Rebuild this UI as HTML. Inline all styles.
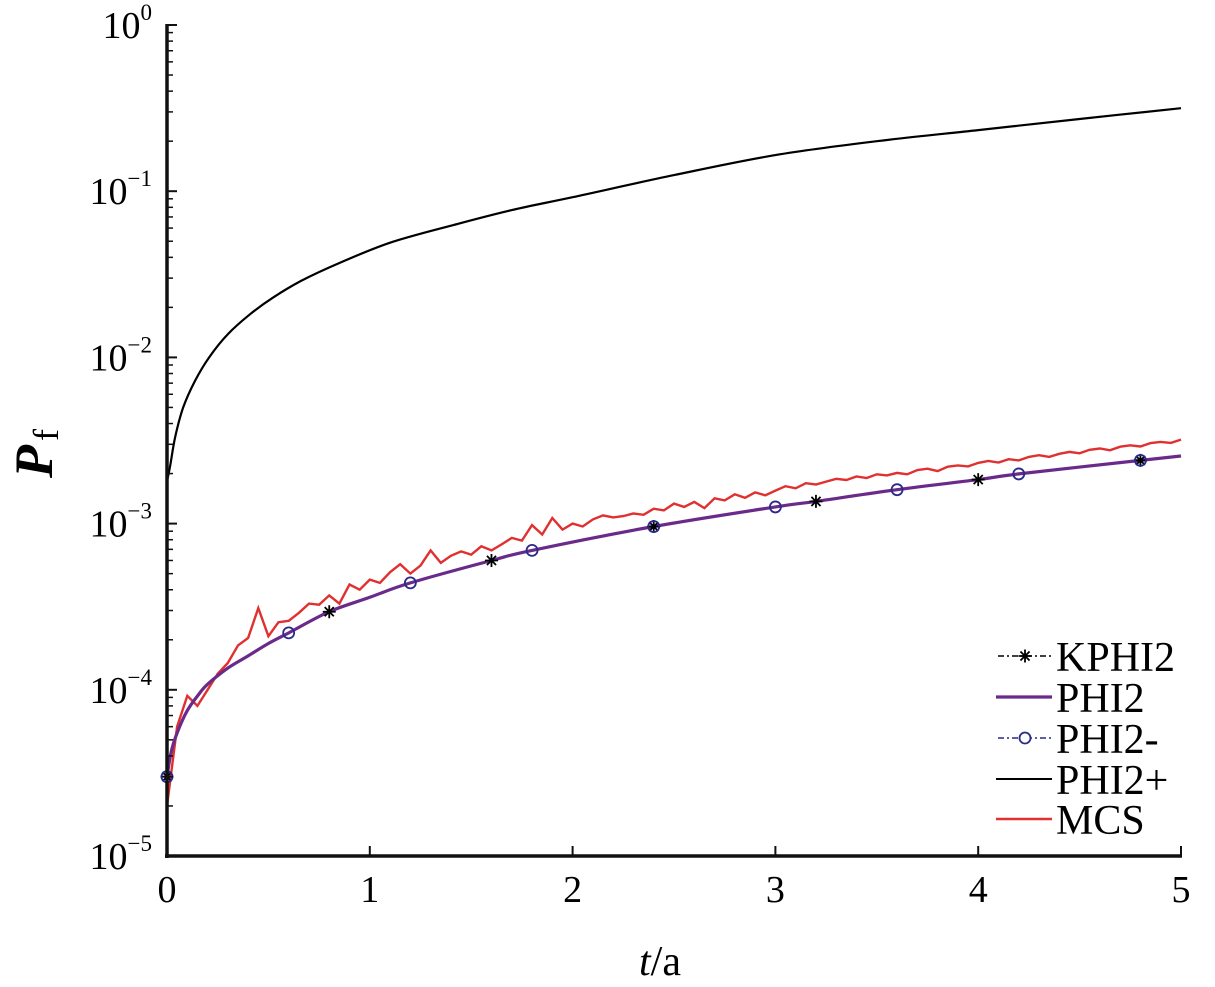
<!DOCTYPE html>
<html><head><meta charset="utf-8"><style>
html,body{margin:0;padding:0;background:#fff;}
svg{display:block;font-family:"Liberation Serif",serif;}
</style></head><body>
<svg id="chart" width="1215" height="987" viewBox="0 0 1215 987" xmlns="http://www.w3.org/2000/svg">
<g id="series"></g>
<g id="axes"></g>
<g id="legend"></g>
<text transform="translate(52,478) rotate(-90)" font-size="54" font-style="italic" font-weight="bold">P<tspan font-size="36" font-style="normal" font-weight="normal" dx="4" dy="6">f</tspan></text>
<text x="660" y="975" font-size="42" text-anchor="middle"><tspan font-style="italic">t</tspan>/a</text>
</svg>
<script>
const xTicks=[0,1,2,3,4,5];
const yDecades=[-5,-4,-3,-2,-1,0];
const plusT=[0,0.015,0.04,0.08,0.14,0.21,0.3,0.41,0.52,0.66,0.85,1.1,1.4,1.7,2,2.5,3,3.5,4,4.5,5];
const plusV=[0.0018,0.0022,0.0033,0.005,0.0073,0.0101,0.0138,0.0182,0.0228,0.0288,0.037,0.049,0.062,0.077,0.092,0.125,0.165,0.2,0.233,0.272,0.316];
const phiT=[0,0.02,0.05,0.1,0.16,0.2,0.3,0.4,0.5,0.6,0.8,1.0,1.2,1.6,1.8,2.4,3.0,3.2,3.6,4.0,4.2,4.8,5.0];
const phiV=[3e-5,4.2e-5,5.5e-5,7.5e-5,9.5e-5,1.08e-4,1.35e-4,1.6e-4,1.9e-4,2.2e-4,2.95e-4,3.6e-4,4.4e-4,6e-4,6.9e-4,9.6e-4,1.26e-3,1.36e-3,1.6e-3,1.84e-3,1.99e-3,2.4e-3,2.55e-3];
const kphiMarkT=[0,0.8,1.6,2.4,3.2,4.0,4.8];
const kphiMarkV=[3e-5,2.95e-4,6e-4,9.6e-4,1.36e-3,1.84e-3,2.4e-3];
const minusMarkT=[0,0.6,1.2,1.8,2.4,3.0,3.6,4.2,4.8];
const minusMarkV=[3e-5,2.2e-4,4.4e-4,6.9e-4,9.6e-4,1.26e-3,1.6e-3,1.99e-3,2.4e-3];
const mcsT=[0,0.05,0.1,0.15,0.2,0.25,0.3,0.35,0.4,0.45,0.5,0.55,0.6,0.65,0.7,0.75,0.8,0.85,0.9,0.95,1.0,1.05,1.1,1.15,1.2,1.25,1.3,1.35,1.4,1.45,1.5,1.55,1.6,1.65,1.7,1.75,1.8,1.85,1.9,1.95,2.0,2.05,2.1,2.15,2.2,2.25,2.3,2.35,2.4,2.45,2.5,2.55,2.6,2.65,2.7,2.75,2.8,2.85,2.9,2.95,3.0,3.05,3.1,3.15,3.2,3.25,3.3,3.35,3.4,3.45,3.5,3.55,3.6,3.65,3.7,3.75,3.8,3.85,3.9,3.95,4.0,4.05,4.1,4.15,4.2,4.25,4.3,4.35,4.4,4.45,4.5,4.55,4.6,4.65,4.7,4.75,4.8,4.85,4.9,4.95,5.0];
const mcsV=[0.2,0.6,0.92,0.8,1.0,1.25,1.45,1.85,2.05,3.1,2.1,2.55,2.6,2.9,3.3,3.25,3.7,3.3,4.3,4.0,4.6,4.4,5.1,5.7,5.0,5.6,6.9,5.8,6.4,6.8,6.5,7.3,6.9,7.5,8.2,7.9,9.8,8.6,10.8,9.2,10.0,9.6,10.6,11.2,10.9,11.1,11.5,11.3,12.3,12.0,13.2,12.6,13.5,12.4,14.2,13.8,15.0,14.3,15.4,14.8,15.8,16.8,16.3,17.5,17.2,17.9,18.6,18.3,19.2,18.8,19.8,19.5,20.2,19.8,21.0,21.4,20.7,22.0,22.4,22.1,23.2,23.8,23.3,24.4,24.0,25.2,25.8,25.2,26.3,27.0,26.5,27.8,28.3,27.6,29.0,29.6,29.1,30.5,31.0,30.6,32.0];
const MCS_SCALE=1e-4;

const X0=167,X1=1181,YT=25,YB=856;
const xs=t=>X0+(t-0)/(5-0)*(X1-X0);
const ys=v=>YB-(Math.log10(v)+5)/5*(YB-YT);
const NS='http://www.w3.org/2000/svg';
function mk(tag,attrs,parent){const e=document.createElementNS(NS,tag);for(const k in attrs)e.setAttribute(k,attrs[k]);parent.appendChild(e);return e;}
const S=document.getElementById('series'),A=document.getElementById('axes'),L=document.getElementById('legend');
const pts=(T,V,sc)=>T.map((t,i)=>xs(t).toFixed(1)+','+ys(V[i]*(sc||1)).toFixed(1)).join(' ');
function smoothPath(T,V){
  const P=T.map((t,i)=>[xs(t),ys(V[i])]);
  let d='M'+P[0][0].toFixed(1)+','+P[0][1].toFixed(1);
  for(let i=0;i<P.length-1;i++){
    const p0=P[Math.max(0,i-1)],p1=P[i],p2=P[i+1],p3=P[Math.min(P.length-1,i+2)];
    const c1=[p1[0]+(p2[0]-p0[0])/6,p1[1]+(p2[1]-p0[1])/6];
    const c2=[p2[0]-(p3[0]-p1[0])/6,p2[1]-(p3[1]-p1[1])/6];
    d+=` C${c1[0].toFixed(1)},${c1[1].toFixed(1)} ${c2[0].toFixed(1)},${c2[1].toFixed(1)} ${p2[0].toFixed(1)},${p2[1].toFixed(1)}`;
  }
  return d;
}

let e;
e=mk('path',{d:smoothPath(plusT,plusV),fill:'none',stroke:'#000','stroke-width':2.2},S);


e=mk('polyline',{points:pts(mcsT,mcsV,MCS_SCALE),fill:'none',stroke:'#e03030','stroke-width':2.4},S);


e=mk('path',{d:smoothPath(phiT,phiV),fill:'none',stroke:'#6a2a8a','stroke-width':3.2},S);


function star(cx,cy,r,g){mk('path',{d:`M${cx-r},${cy}H${cx+r}M${cx},${cy-r}V${cy+r}M${cx-r*.7},${cy-r*.7}L${cx+r*.7},${cy+r*.7}M${cx-r*.7},${cy+r*.7}L${cx+r*.7},${cy-r*.7}`,stroke:'#000','stroke-width':1.8,fill:'none'},g);}
kphiMarkT.forEach((t,i)=>{const g=mk('g',{},S);


star(xs(t),ys(kphiMarkV[i]),6.5,g);});
minusMarkT.forEach((t,i)=>{const c=mk('circle',{cx:xs(t),cy:ys(minusMarkV[i]),r:5.5,fill:'none',stroke:'#2a2a8a','stroke-width':1.8},S);

});

mk('line',{x1:X0,y1:YT-1,x2:X0,y2:YB+2,stroke:'#111','stroke-width':3.5},A);
mk('line',{x1:X0-2,y1:YB,x2:X1+1,y2:YB,stroke:'#111','stroke-width':3.5},A);
xTicks.forEach(t=>{const x=xs(t);
mk('line',{x1:x,y1:YB,x2:x,y2:YB-10,stroke:'#111','stroke-width':2},A);
const tx=mk('text',{x:x,y:YB+46,'font-size':38,'text-anchor':'middle'},A);tx.textContent=t;

});
yDecades.forEach(d=>{const y=ys(Math.pow(10,d));
mk('line',{x1:X0,y1:y,x2:X0+10,y2:y,stroke:'#111','stroke-width':2},A);
if(d<0)for(let m=2;m<=9;m++){const ym=ys(m*Math.pow(10,d));mk('line',{x1:X0,y1:ym,x2:X0+6,y2:ym,stroke:'#111','stroke-width':1.5},A);}
const tx=mk('text',{x:152,y:y+13,'font-size':38,'text-anchor':'end'},A);


tx.innerHTML='10<tspan font-size="23" dy="-18">'+(d<0?'\u2212'+(-d):d)+'</tspan>';});

const legNames=['KPHI2','PHI2','PHI2-','PHI2+','MCS'];
const legY=[656,697,738,779,819];
legNames.forEach((n,i)=>{const g=mk('g',{},L);


const y=legY[i];
if(i===0){mk('line',{x1:998,y1:y,x2:1052,y2:y,stroke:'#000','stroke-width':1.5,'stroke-dasharray':'6,3,2,3'},g);star(1025,y,6.5,g);}
if(i===1)mk('line',{x1:996,y1:y,x2:1052,y2:y,stroke:'#6a2a8a','stroke-width':3.2},g);
if(i===2){mk('line',{x1:998,y1:y,x2:1052,y2:y,stroke:'#2a2a8a','stroke-width':1.5,'stroke-dasharray':'6,3,2,3'},g);mk('circle',{cx:1025,cy:y,r:5.5,fill:'#fff',stroke:'#2a2a8a','stroke-width':1.8},g);}
if(i===3)mk('line',{x1:996,y1:y,x2:1052,y2:y,stroke:'#000','stroke-width':2},g);
if(i===4)mk('line',{x1:996,y1:y,x2:1052,y2:y,stroke:'#e03030','stroke-width':2.4},g);
const tx=mk('text',{x:1056,y:y+15,'font-size':42},g);tx.textContent=n;});
</script>
</body></html>
